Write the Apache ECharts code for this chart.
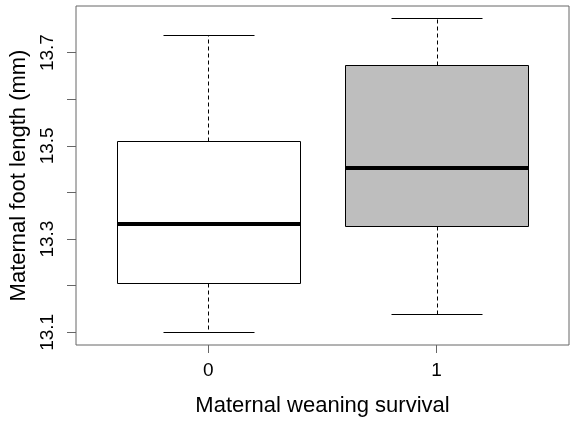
<!DOCTYPE html>
<html>
<head>
<meta charset="utf-8">
<script src="https://cdn.jsdelivr.net/npm/echarts@6/dist/echarts.min.js"></script>
<style>html,body{margin:0;padding:0;background:#fff}#c{width:573px;height:422px}</style>
</head>
<body>
<div id="c"></div>
<script>
// Data
var categories = ['0', '1'];
var whiskerLow = [13.100, 13.140];
var q1 = [13.206, 13.328];
var median = [13.332, 13.452];
var q3 = [13.511, 13.673];
var whiskerHigh = [13.737, 13.774];
var yTickValues = [13.1, 13.2, 13.3, 13.4, 13.5, 13.6, 13.7];
var yLabelValues = [13.1, 13.3, 13.5, 13.7];

var fills = ['#ffffff', '#bebebe'];
var FONT = '"Liberation Sans", Arial, sans-serif';

var data = categories.map(function (c, i) {
  return [i, whiskerLow[i], q1[i], median[i], q3[i], whiskerHigh[i]];
});

function px(v) { return Math.round(v) + 0.5; }

function renderItem(params, api) {
  var i = params.dataIndex;
  var x = api.value(0);
  var lo = api.coord([x, api.value(1)]);
  var b1 = api.coord([x, api.value(2)]);
  var md = api.coord([x, api.value(3)]);
  var b3 = api.coord([x, api.value(4)]);
  var hi = api.coord([x, api.value(5)]);
  var xl = api.coord([x - 0.4, 0])[0];
  var xr = api.coord([x + 0.4, 0])[0];
  var cl = api.coord([x - 0.2, 0])[0];
  var cr = api.coord([x + 0.2, 0])[0];
  var cx = px(lo[0]);
  var lineStyle = { stroke: '#000', lineWidth: 1, fill: null };
  var dashStyle = { stroke: '#000', lineWidth: 1, fill: null, lineDash: [4, 3] };
  return {
    type: 'group',
    children: [
      { type: 'line', shape: { x1: cx, y1: px(b3[1]), x2: cx, y2: px(hi[1]) }, style: dashStyle },
      { type: 'line', shape: { x1: cx, y1: px(b1[1]), x2: cx, y2: px(lo[1]) }, style: dashStyle },
      { type: 'line', shape: { x1: px(cl), y1: px(hi[1]), x2: px(cr), y2: px(hi[1]) }, style: lineStyle },
      { type: 'line', shape: { x1: px(cl), y1: px(lo[1]), x2: px(cr), y2: px(lo[1]) }, style: lineStyle },
      { type: 'rect', shape: { x: px(xl), y: px(b3[1]), width: Math.round(xr) - Math.round(xl), height: Math.round(b1[1]) - Math.round(b3[1]) },
        style: { fill: fills[i], stroke: '#000', lineWidth: 1 } },
      { type: 'line', shape: { x1: px(xl), y1: Math.round(md[1]), x2: px(xr), y2: Math.round(md[1]) },
        style: { stroke: '#000', lineWidth: 4 } }
    ]
  };
}

var chart = echarts.init(document.getElementById('c'), null, { renderer: 'canvas' });
chart.setOption({
  animation: false,
  backgroundColor: '#ffffff',
  grid: { left: 76, right: 4, top: 6, bottom: 77, show: true, borderColor: '#666', borderWidth: 1,
    backgroundColor: 'transparent', containLabel: false, outerBoundsMode: 'none' },
  xAxis: {
    type: 'value', min: -0.58, max: 1.58,
    name: 'Maternal weaning survival', nameLocation: 'middle', nameGap: 50,
    nameTextStyle: { fontFamily: FONT, fontSize: 22, color: '#000' },
    splitLine: { show: false },
    axisLine: { show: false, onZero: false },
    axisTick: { show: true, length: 8, lineStyle: { color: '#666' }, customValues: [0, 1] },
    axisLabel: { fontFamily: FONT, fontSize: 19, color: '#000', margin: 16, customValues: [0, 1],
      formatter: function (v) { return categories[Math.round(v)]; } }
  },
  yAxis: {
    type: 'value', min: 13.0728, max: 13.7999,
    name: 'Maternal foot length (mm)', nameLocation: 'middle', nameGap: 46, nameRotate: 90,
    nameTextStyle: { fontFamily: FONT, fontSize: 22, color: '#000' },
    splitLine: { show: false },
    axisLine: { show: false, onZero: false },
    axisTick: { show: true, length: 9, lineStyle: { color: '#666' }, customValues: yTickValues },
    axisLabel: { fontFamily: FONT, fontSize: 19, color: '#000', margin: 19, rotate: 90, customValues: yLabelValues,
      formatter: function (v) { return v.toFixed(1); } }
  },
  series: [{
    type: 'custom',
    renderItem: renderItem,
    encode: { x: 0, y: [1, 2, 3, 4, 5] },
    data: data,
    clip: false
  }]
});
</script>
</body>
</html>
